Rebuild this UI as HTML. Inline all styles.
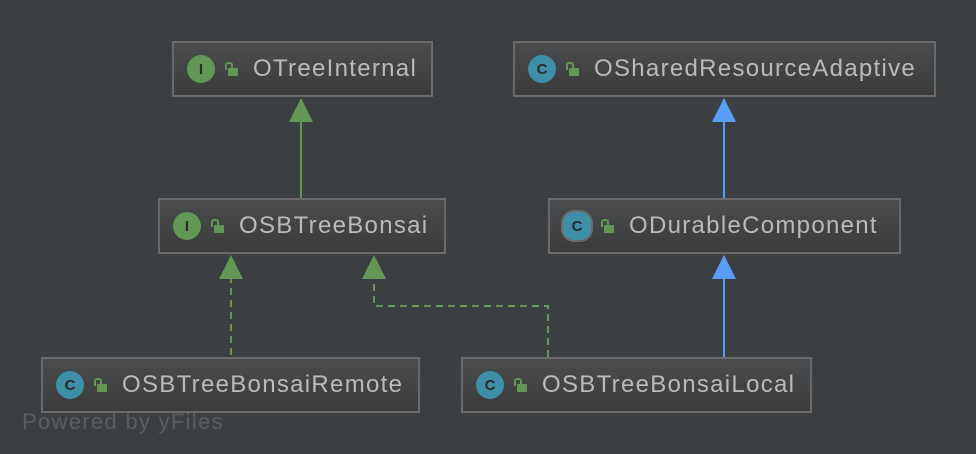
<!DOCTYPE html><html><head><style>
body{margin:0;width:976px;height:454px;background:#3c3f41;position:relative;overflow:hidden;font-family:"Liberation Sans",sans-serif}
.b{position:absolute;box-sizing:border-box;border:2px solid #6a6a6a;background:linear-gradient(#4a4c4e,#3b3b3b);color:#bbbbbb;font-size:24px;letter-spacing:1.3px;display:flex;align-items:center;padding-left:13px;height:56px;white-space:nowrap}
.i{width:28px;height:28px;border-radius:50%;display:inline-flex;align-items:center;justify-content:center;font-size:15px;font-weight:bold;color:#2b2b2b;margin-right:10px;letter-spacing:0}
.g{background:#629755}.c{background:#3d8fa8}
.l{width:13px;height:14px;margin-right:15px;position:relative}
.l:before{content:"";position:absolute;left:0;top:0;width:4px;height:6px;border:2px solid #629755;border-bottom:none;border-radius:3px 3px 0 0}
.l:after{content:"";position:absolute;left:3px;top:6px;width:10px;height:8px;background:#629755;border-radius:1px}
</style></head><body>
<svg width="976" height="454" style="position:absolute;left:0;top:0">
<g stroke="#629755" stroke-width="2" fill="none">
<line x1="301" y1="120" x2="301" y2="198"/>
<line x1="231" y1="276" x2="231" y2="357" stroke-dasharray="7,5"/>
<polyline points="548,357 548,306 374,306 374,276" stroke-dasharray="7,5"/>
</g>
<g fill="#629755">
<polygon points="301,98 289,122 313,122"/>
<polygon points="231,255 219,279 243,279"/>
<polygon points="374,255 362,279 386,279"/>
</g>
<g stroke="#589df6" stroke-width="2"><line x1="724" y1="120" x2="724" y2="198"/><line x1="724" y1="276" x2="724" y2="357"/></g>
<g fill="#589df6"><polygon points="724,98 712,122 736,122"/><polygon points="724,255 712,279 736,279"/></g>
<text x="22" y="429" fill="#5a5d5f" font-size="22" letter-spacing="1.3" font-family="Liberation Sans">Powered by yFiles</text>
</svg>
<div class="b" style="left:172px;top:41px;width:261px"><span class="i g">I</span><span class="l"></span>OTreeInternal</div>
<div class="b" style="left:513px;top:41px;width:423px"><span class="i c">C</span><span class="l"></span>OSharedResourceAdaptive</div>
<div class="b" style="left:158px;top:198px;width:288px"><span class="i g">I</span><span class="l"></span>OSBTreeBonsai</div>
<div class="b" style="left:548px;top:198px;width:353px"><span class="i c" style="border-radius:40%;box-shadow:0 0 0 2px #6a6a6a">C</span><span class="l"></span>ODurableComponent</div>
<div class="b" style="left:41px;top:357px;width:379px"><span class="i c">C</span><span class="l"></span>OSBTreeBonsaiRemote</div>
<div class="b" style="left:461px;top:357px;width:351px"><span class="i c">C</span><span class="l"></span>OSBTreeBonsaiLocal</div>
</body></html>
